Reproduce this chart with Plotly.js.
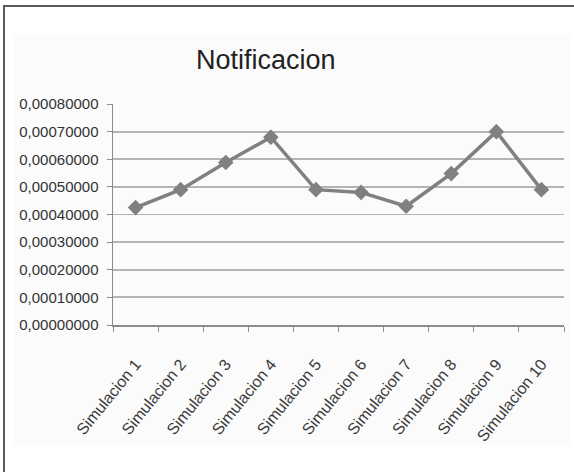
<!DOCTYPE html>
<html>
<head>
<meta charset="utf-8">
<script src="https://cdn.plot.ly/plotly-3.0.1.min.js"></script>
<style>
  html, body { margin: 0; padding: 0; background: #ffffff; }
  #frame {
    position: absolute; left: 3px; top: 5px; width: 571px; height: 467px;
    border-top: 2px solid #5a5a5a; border-left: 2px solid #5a5a5a;
    box-sizing: border-box;
  }
  #chart { position: absolute; left: 14px; top: 35px; width: 556px; height: 410px; }
</style>
</head>
<body>
<div id="frame"></div>
<div id="chart"></div>
<script>
// Notificacion per simulation run
const categories = ["Simulacion 1", "Simulacion 2", "Simulacion 3", "Simulacion 4", "Simulacion 5",
                    "Simulacion 6", "Simulacion 7", "Simulacion 8", "Simulacion 9", "Simulacion 10"];
const notificacion = [0.000425, 0.00049, 0.000588, 0.00068, 0.00049,
                      0.00048, 0.00043, 0.000548, 0.0007, 0.00049];
const yTicks = [0, 0.0001, 0.0002, 0.0003, 0.0004, 0.0005, 0.0006, 0.0007, 0.0008];
const chartTitle = "Notificacion";

const yLabelFont = { family: "Liberation Sans Narrow, Liberation Sans, sans-serif", size: 15, color: "#333333" };
const xLabelFont = { family: "Liberation Sans, sans-serif", size: 16, color: "#3a3a3a" };

const trace = {
  type: "scatter",
  mode: "lines+markers",
  x: categories,
  y: notificacion,
  line: { color: "#808080", width: 3.5 },
  marker: { symbol: "diamond", size: 12, color: "#808080" },
  hoverinfo: "x+y"
};

const layout = {
  width: 556,
  height: 410,
  margin: { l: 99, r: 6, t: 69, b: 120 },
  paper_bgcolor: "#fbfbfb",
  plot_bgcolor: "#fbfbfb",
  separators: ",.",
  showlegend: false,
  title: {
    text: chartTitle,
    font: { family: "Liberation Sans Narrow, Liberation Sans, sans-serif", size: 27, color: "#222222" },
    xref: "container", x: 0.453, xanchor: "center",
    yref: "container", y: 0.94, yanchor: "middle"
  },
  xaxis: {
    type: "category",
    range: [-0.5, 9.5],
    automargin: false,
    tickangle: -51,
    tickfont: xLabelFont,
    ticklabelstandoff: 22,
    tickson: "boundaries",
    ticks: "outside",
    ticklen: 5,
    tickcolor: "#8c8c8c",
    showline: true,
    linecolor: "#8c8c8c",
    linewidth: 1.5,
    showgrid: false,
    zeroline: false
  },
  yaxis: {
    automargin: false,
    range: [0, 0.0008],
    tickvals: yTicks,
    tickformat: ".8f",
    tickfont: yLabelFont,
    ticklabelstandoff: 5,
    ticks: "outside",
    ticklen: 5,
    tickcolor: "#8c8c8c",
    showline: true,
    linecolor: "#8c8c8c",
    linewidth: 1.5,
    showgrid: true,
    gridcolor: "#b4b4b4",
    gridwidth: 1.8,
    zeroline: false
  }
};

Plotly.newPlot("chart", [trace], layout, { displayModeBar: false, staticPlot: true });
</script>
</body>
</html>
